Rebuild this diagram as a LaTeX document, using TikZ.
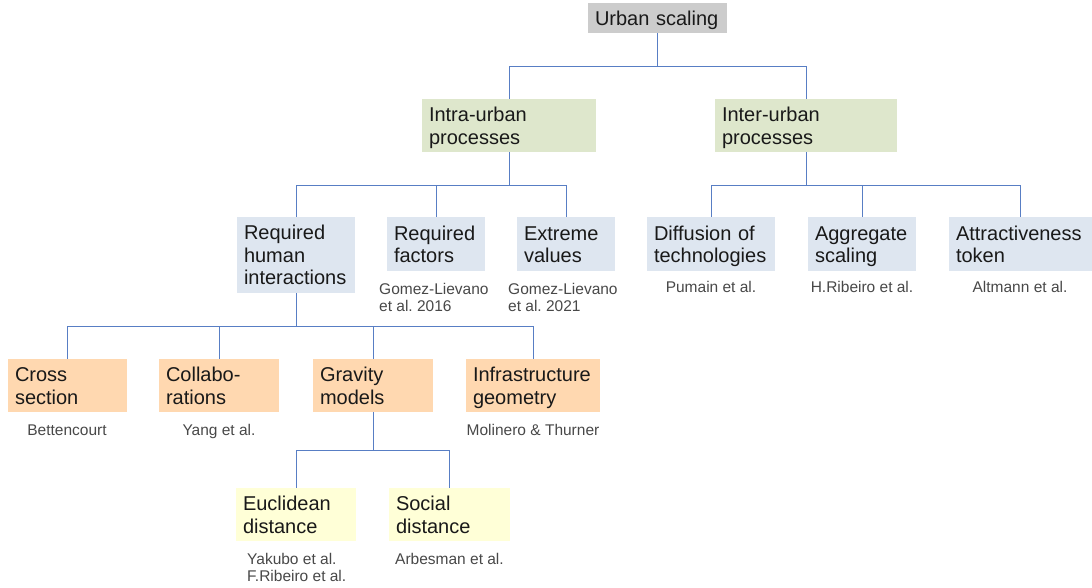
\documentclass[tikz,border=0pt]{standalone}
\usepackage{fontspec}
\setmainfont{Liberation Sans}
\usepackage{tikz}
\usetikzlibrary{positioning}
\frenchspacing

\definecolor{linkblue}{RGB}{88,126,196}
\definecolor{rootgray}{RGB}{204,204,204}
\definecolor{procgreen}{RGB}{222,231,204}
\definecolor{mechblue}{RGB}{222,230,240}
\definecolor{modorange}{RGB}{255,216,176}
\definecolor{distyellow}{RGB}{255,255,215}
\definecolor{citegray}{RGB}{72,72,72}

\tikzset{
  box/.style={rectangle, inner xsep=7pt, inner ysep=0pt, align=left,
    font=\fontsize{20}{22.5}\selectfont, text=black!90,
    execute at begin node={\rule{0pt}{20.5pt}},
    execute at end node={\rule[-6pt]{0pt}{0pt}}},
  rootbox/.style={box, fill=rootgray},
  procbox/.style={box, fill=procgreen},
  mechbox/.style={box, fill=mechblue},
  modbox/.style={box, fill=modorange},
  distbox/.style={box, fill=distyellow},
  cite/.style={inner sep=0pt, align=left, text=citegray,
    font=\fontsize{15.5}{17.5}\selectfont},
  link/.style={draw=linkblue, line width=0.8pt}
}

\begin{document}
\begin{tikzpicture}[x=1pt, y=-1pt]
    \useasboundingbox (0,0) rectangle (1092,587);

    % Boxes
    \node[rootbox, text width=125pt, minimum height=30pt] (root) at (657.5,18) {Urban scaling};
    \node[procbox, text width=160pt, minimum height=53pt] (intra) at (509,125.5) {Intra-urban\\processes};
    \node[procbox, text width=168pt, minimum height=53pt] (inter) at (806,125.5) {Inter-urban\\processes};
    \node[mechbox, text width=104pt, minimum height=76pt] (human) at (296,255) {Required\\human\\interactions};
    \node[mechbox, text width=84pt, minimum height=54pt] (factors) at (436,244) {Required\\factors};
    \node[mechbox, text width=84pt, minimum height=54pt] (extreme) at (566,244) {Extreme\\values};
    \node[mechbox, text width=114pt, minimum height=54pt] (diffusion) at (711,244) {Diffusion of\\technologies};
    \node[mechbox, text width=94pt, minimum height=54pt] (aggregate) at (862,244) {Aggregate\\scaling};
    \node[mechbox, text width=129pt, minimum height=54pt] (attract) at (1020.5,244) {Attractiveness\\token};
    \node[modbox, text width=105pt, minimum height=53pt] (cross) at (67.5,385.5) {Cross\\section};
    \node[modbox, text width=106pt, minimum height=53pt] (collab) at (219,385.5) {Collabo-\\rations};
    \node[modbox, text width=106pt, minimum height=53pt] (gravity) at (373,385.5) {Gravity\\models};
    \node[modbox, text width=120pt, minimum height=53pt] (infra) at (533,385.5) {Infrastructure\\geometry};
    \node[distbox, text width=106pt, minimum height=53pt] (euclid) at (296,514.5) {Euclidean\\distance};
    \node[distbox, text width=107pt, minimum height=53pt] (social) at (449.5,514.5) {Social\\distance};

    % References
    \node[cite, anchor=north west] (factors-ref) at (379,283) {Gomez-Lievano\\et al. 2016};
    \node[cite, anchor=north west] (extreme-ref) at (508,283) {Gomez-Lievano\\et al. 2021};
    \node[cite, anchor=base] (diffusion-ref) at (711,292) {Pumain et al.};
    \node[cite, anchor=base] (aggregate-ref) at (862,292) {H.Ribeiro et al.};
    \node[cite, anchor=base] (attract-ref) at (1020,292) {Altmann et al.};
    \node[cite, anchor=base] (cross-ref) at (67,435) {Bettencourt};
    \node[cite, anchor=base] (collab-ref) at (219,435) {Yang et al.};
    \node[cite, anchor=base] (infra-ref) at (533,435) {Molinero \& Thurner};
    \node[cite, anchor=north west] (euclid-ref) at (247,553) {Yakubo et al.\\F.Ribeiro et al.};
    \node[cite, anchor=base west] (social-ref) at (395,564) {Arbesman et al.};

    % Connect the nodes
    \draw[link] (root.south) -- ++(0,33) -| (intra.north);
    \draw[link] (root.south) -- ++(0,33) -| (inter.north);
    \draw[link] (intra.south) -- ++(0,33) -| (human.north);
    \draw[link] (intra.south) -- ++(0,33) -| (factors.north);
    \draw[link] (intra.south) -- ++(0,33) -| (extreme.north);
    \draw[link] (inter.south) -- ++(0,33) -| (diffusion.north);
    \draw[link] (inter.south) -- ++(0,33) -| (aggregate.north);
    \draw[link] (inter.south) -- ++(0,33) -| (attract.north);
    \draw[link] (human.south) -- ++(0,33) -| (cross.north);
    \draw[link] (human.south) -- ++(0,33) -| (collab.north);
    \draw[link] (human.south) -- ++(0,33) -| (gravity.north);
    \draw[link] (human.south) -- ++(0,33) -| (infra.north);
    \draw[link] (gravity.south) -- ++(0,38) -| (euclid.north);
    \draw[link] (gravity.south) -- ++(0,38) -| (social.north);
\end{tikzpicture}
\end{document}
